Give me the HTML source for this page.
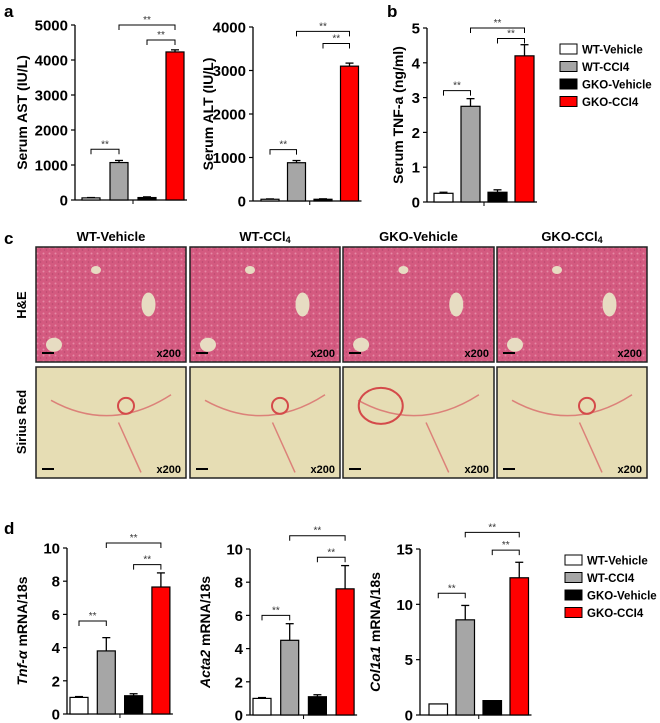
<!DOCTYPE html>
<html><head><meta charset="utf-8">
<style>
html,body{margin:0;padding:0;background:#fff;}
svg{display:block;font-family:"Liberation Sans",Arial,sans-serif;}
</style></head>
<body>
<svg id="fig" width="660" height="723" viewBox="0 0 660 723" xmlns="http://www.w3.org/2000/svg">
<defs>
<pattern id="he" width="6" height="6" patternUnits="userSpaceOnUse"><rect width="6" height="6" fill="#d45a80"/><circle cx="1.5" cy="1.5" r="1" fill="#e58aa5"/><circle cx="4.5" cy="4" r="0.8" fill="#b8486e"/></pattern>
</defs>
<g font-weight="bold" font-size="17">
<text x="4" y="17">a</text>
<text x="387" y="17">b</text>
<text x="4" y="244">c</text>
<text x="4" y="534">d</text>
</g>
<g id="histo"></g>
<g id="charts"></g>
</svg>
<script>
const groups = ["WT-Vehicle","WT-CCl4","GKO-Vehicle","GKO-CCl4"];
const colors = ["#ffffff","#a6a6a6","#000000","#ff0000"];
const astMean = [60,1070,70,4230];
const astErr = [10,60,20,60];
const altMean = [40,880,40,3100];
const altErr = [8,50,10,70];
const tnfMean = [0.25,2.75,0.28,4.2];
const tnfErr = [0.03,0.22,0.07,0.32];
const tnfmMean = [1.0,3.8,1.1,7.65];
const tnfmErr = [0.05,0.8,0.12,0.85];
const actaMean = [1.0,4.5,1.1,7.6];
const actaErr = [0.05,1.0,0.12,1.4];
const colMean = [1.0,8.6,1.3,12.4];
const colErr = [0.0,1.3,0.0,1.4];
const astTicks = [0,1000,2000,3000,4000,5000];
const altTicks = [0,1000,2000,3000,4000];
const tnfTicks = [0,1,2,3,4,5];
const tnfmTicks = [0,2,4,6,8,10];
const actaTicks = [0,2,4,6,8,10];
const colTicks = [0,5,10,15];
const legendLabels = ["WT-Vehicle","WT-CCl4","GKO-Vehicle","GKO-CCl4"];
const legendText = ["WT-Vehicle","WT-CCI4","GKO-Vehicle","GKO-CCI4"];

const NS="http://www.w3.org/2000/svg";
function mk(tag, attrs, parent){const e=document.createElementNS(NS,tag);for(const k in attrs)e.setAttribute(k,attrs[k]);parent.appendChild(e);return e;}

const charts=[
 {key:"ast",mean:astMean,err:astErr,ticks:astTicks,max:5000,ax:75,x0:82,top:25,bot:200,step:28,bw:18,title:"Serum AST (IU/L)",br:[1450,5000,4570]},
 {key:"alt",mean:altMean,err:altErr,ticks:altTicks,max:4000,ax:253,x0:261,top:27,bot:201,step:26.5,bw:18,title:"Serum ALT (IU/L)",br:[1180,3900,3620]},
 {key:"tnf",mean:tnfMean,err:tnfErr,ticks:tnfTicks,max:5,ax:427,x0:434,top:28,bot:202,step:27,bw:19,title:"Serum TNF-a (ng/ml)",br:[3.2,5.0,4.7]},
 {key:"tnfm",mean:tnfmMean,err:tnfmErr,ticks:tnfmTicks,max:10,ax:67,x0:70,top:548,bot:714,step:27.3,bw:18,title:"mRNA/18s",it:"Tnf-α",br:[5.6,10.3,9.0]},
 {key:"acta",mean:actaMean,err:actaErr,ticks:actaTicks,max:10,ax:250,x0:253,top:549,bot:715,step:27.7,bw:18,title:"mRNA/18s",it:"Acta2",br:[6.0,10.8,9.5]},
 {key:"col",mean:colMean,err:colErr,ticks:colTicks,max:15,ax:420,x0:429,top:549,bot:715,step:27,bw:18.5,title:"mRNA/18s",it:"Col1a1",br:[11.0,16.5,14.9]}
];
const root=document.getElementById('charts');
charts.forEach(c=>{
 const g=mk('g',{},root);
 
 
 const y=v=>c.bot-(v/c.max)*(c.bot-c.top);
 const bx=i=>c.x0+i*c.step;
 const axEnd=bx(3)+c.bw+3;
 const yax=mk('line',{x1:c.ax,y1:c.top,x2:c.ax,y2:c.bot,stroke:'#000','stroke-width':1.3},g);
 
 
 const xax=mk('line',{x1:c.ax,y1:c.bot,x2:axEnd,y2:c.bot,stroke:'#000','stroke-width':1.3},g);
 
 
 const mid=(bx(1)+c.bw+bx(2))/2;
 mk('line',{x1:mid,y1:c.bot,x2:mid,y2:c.bot+4,stroke:'#000','stroke-width':1},g);
 c.ticks.forEach(t=>{
  mk('line',{x1:c.ax-4,y1:y(t),x2:c.ax,y2:y(t),stroke:'#000','stroke-width':1.2},g);
  const tx=mk('text',{x:c.ax-7,y:y(t)+5.5,'text-anchor':'end','font-size':15,'font-weight':'bold'},g);
  tx.textContent=t;
  
  
 });
 c.mean.forEach((m,i)=>{
  const x=bx(i);
  if(c.err[i]>0){
   mk('line',{x1:x+c.bw/2,y1:y(m),x2:x+c.bw/2,y2:y(m+c.err[i]),stroke:'#000','stroke-width':1.3},g);
   mk('line',{x1:x+c.bw/2-4,y1:y(m+c.err[i]),x2:x+c.bw/2+4,y2:y(m+c.err[i]),stroke:'#000','stroke-width':1.3},g);
  }
  const r=mk('rect',{x:x,y:y(m),width:c.bw,height:c.bot-y(m),fill:colors[i],stroke:'#000','stroke-width':1.2},g);
  
  
 });
 const pairs=[[0,1],[1,3],[2,3]];
 pairs.forEach((p,k)=>{
  const yy=y(c.br[k]);
  const xa=bx(p[0])+c.bw/2, xb=bx(p[1])+c.bw/2;
  const b=mk('path',{d:`M${xa} ${yy+5}V${yy}H${xb}V${yy+5}`,fill:'none',stroke:'#000','stroke-width':1},g);
  
  
  const s=mk('text',{x:(xa+xb)/2,y:yy-2,'text-anchor':'middle','font-size':10,fill:'#333'},g);
  s.textContent='**';
 });
 const cy=(c.top+c.bot)/2, tx=c.ax-(c.key==='ast'?48:(c.key==='tnf'?24:40));
 const t=mk('text',{transform:`translate(${tx},${cy}) rotate(-90)`,'text-anchor':'middle','font-size':14,'font-weight':'bold'},g);
 
 
 if(c.it){const s=mk('tspan',{'font-style':'italic'},t);s.textContent=c.it+' ';const s2=mk('tspan',{},t);s2.textContent=c.title;}
 else t.textContent=c.title;
});
[[560,49],[565,560]].forEach((L,li)=>{
 const g=mk('g',{},root);
 
 
 legendLabels.forEach((lab,i)=>{
  const yy=L[1]+i*17.5;
  const e=mk('g',{},g);
  
  
  mk('rect',{x:L[0],y:yy-5,width:17,height:10,fill:colors[i],stroke:'#000','stroke-width':1},e);
  const t=mk('text',{x:L[0]+22,y:yy+4.5,'font-size':11.5,'font-weight':'bold'},e);
  t.textContent=legendText[i];
 });
});
const H=document.getElementById('histo');
const cols=[[36,186],[190,340],[343,494],[497,647]];
const rows=[[247,362],[367,478]];
const titles=["WT-Vehicle","WT-CCl","GKO-Vehicle","GKO-CCl"];
cols.forEach((c,i)=>{
 const t=mk('text',{x:(c[0]+c[1])/2,y:241,'text-anchor':'middle','font-size':13,'font-weight':'bold'},H);
 
 
 t.textContent=titles[i];
 if(i%2){const s=mk('tspan',{'font-size':9,dy:2},t);s.textContent='4';}
 rows.forEach((r,j)=>{
  const g=mk('g',{},H);
  
  
  mk('rect',{x:c[0],y:r[0],width:c[1]-c[0],height:r[1]-r[0],fill:j?'#e6ddb4':'url(#he)'},g);
  const w=c[1]-c[0],h=r[1]-r[0];
  if(j===0){
   mk('ellipse',{cx:c[0]+w*0.75,cy:r[0]+h*0.5,rx:7,ry:12,fill:'#e7dcc2'},g);
   mk('ellipse',{cx:c[0]+w*0.4,cy:r[0]+h*0.2,rx:5,ry:4,fill:'#e7dcc2'},g);
   mk('ellipse',{cx:c[0]+w*0.12,cy:r[0]+h*0.85,rx:8,ry:7,fill:'#e7dcc2'},g);
  } else {
   mk('path',{d:`M${c[0]+w*0.1} ${r[0]+h*0.3} Q${c[0]+w*0.5} ${r[0]+h*0.6} ${c[0]+w*0.9} ${r[0]+h*0.25} M${c[0]+w*0.55} ${r[0]+h*0.5} L${c[0]+w*0.7} ${r[0]+h*0.95}`,fill:'none',stroke:'#d96a6a','stroke-width':1.5,opacity:0.8},g);
   mk('ellipse',{cx:c[0]+w*(i===2?0.25:0.6),cy:r[0]+h*0.35,rx:i===2?22:8,ry:i===2?18:8,fill:'none',stroke:'#d44a4a','stroke-width':2},g);
  }
  mk('rect',{x:c[0],y:r[0],width:w,height:h,fill:'none',stroke:'#222','stroke-width':1.5},g);
  mk('line',{x1:c[0]+6,y1:r[1]-9,x2:c[0]+18,y2:r[1]-9,stroke:'#000','stroke-width':2},g);
  const x=mk('text',{x:c[1]-5,y:r[1]-5,'text-anchor':'end','font-size':11,'font-weight':'bold'},g);
  x.textContent='x200';
 });
});
const r1=mk('text',{transform:'translate(26,305) rotate(-90)','text-anchor':'middle','font-size':13,'font-weight':'bold'},H);


r1.textContent='H&E';
const r2=mk('text',{transform:'translate(26,422) rotate(-90)','text-anchor':'middle','font-size':13,'font-weight':'bold'},H);


r2.textContent='Sirius Red';
</script>
</body></html>
